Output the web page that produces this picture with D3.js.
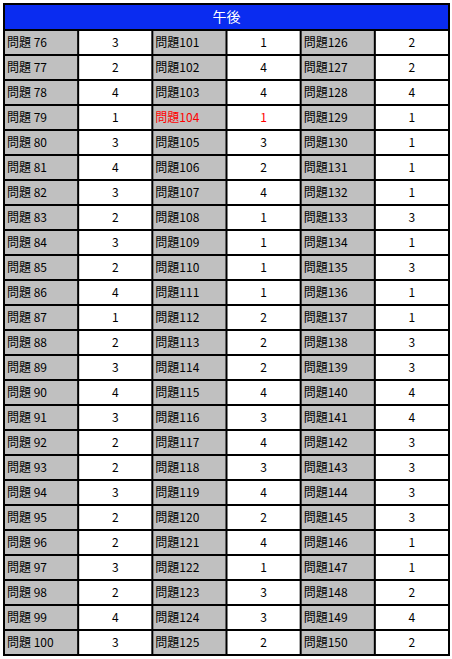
<!DOCTYPE html>
<html><head><meta charset="utf-8">
<script src="https://cdn.jsdelivr.net/npm/d3@7"></script>
<style>body{margin:0;background:#fff}</style>
</head><body>
<svg id="chart" width="452" height="659"></svg>
<script>
var title = "午後";
var labels1 = d3.range(76, 101).map(function(n){ return "問題 " + n; });
var labels2 = d3.range(101, 126).map(function(n){ return "問題" + n; });
var labels3 = d3.range(126, 151).map(function(n){ return "問題" + n; });
var values1 = [3,2,4,1,3,4,3,2,3,2,4,1,2,3,4,3,2,2,3,2,2,3,2,4,3];
var values2 = [1,4,4,1,3,2,4,1,1,1,1,2,2,2,4,3,4,3,4,2,4,1,3,3,2];
var values3 = [2,2,4,1,1,1,1,3,1,3,1,1,3,3,4,4,3,3,3,3,1,1,2,4,2];
var highlight = "問題104";

var svg = d3.select("#chart");
var x0 = 4, x1 = 449, y0 = 4, headH = 26, y1 = 655;
var font = "'Noto Sans CJK JP', sans-serif";

var cols = [labels1, values1, labels2, values2, labels3, values3];
var x = d3.scaleLinear().domain([0, 6]).range([x0, x1]);
var y = d3.scaleBand().domain(d3.range(25)).range([y0 + headH, y1]);

svg.append("rect").attr("x", x0).attr("y", y0).attr("width", x1 - x0).attr("height", headH).attr("fill", "#0a2cf0");
svg.append("text").attr("x", (x0 + x1) / 2).attr("y", y0 + headH / 2 + 5).attr("text-anchor", "middle")
  .attr("fill", "#fff").attr("font-family", font).attr("font-size", 14).text(title);

cols.forEach(function(col, c) {
  var isLabel = c % 2 === 0;
  var g = svg.append("g");
  g.selectAll("rect").data(col).enter().append("rect")
    .attr("x", x(c)).attr("y", function(d, i){ return y(i); })
    .attr("width", x(c + 1) - x(c)).attr("height", y.bandwidth())
    .attr("fill", isLabel ? "#c0c0c0" : "#fff");
  g.selectAll("text").data(col).enter().append("text")
    .attr("x", isLabel ? x(c) + 3 : (x(c) + x(c + 1)) / 2)
    .attr("y", function(d, i){ return y(i) + y.bandwidth() / 2 + 4.5; })
    .attr("text-anchor", isLabel ? "start" : "middle")
    .attr("font-family", font).attr("font-size", 12)
    .attr("fill", function(d, i){ return cols[c - (isLabel ? 0 : 1)][i] === highlight ? "#ff0000" : "#000"; })
    .text(function(d){ return d; });
});

// grid lines
d3.range(26).forEach(function(i){
  var yy = i < 25 ? y(i) : y1;
  svg.append("line").attr("x1", x0).attr("x2", x1).attr("y1", yy).attr("y2", yy).attr("stroke", "#000").attr("stroke-width", 2);
});
d3.range(7).forEach(function(c){
  svg.append("line").attr("x1", x(c)).attr("x2", x(c)).attr("y1", c === 0 || c === 6 ? y0 : y0 + headH).attr("y2", y1).attr("stroke", "#000").attr("stroke-width", 2);
});
svg.append("rect").attr("x", x0).attr("y", y0).attr("width", x1 - x0).attr("height", y1 - y0)
  .attr("fill", "none").attr("stroke", "#000").attr("stroke-width", 2);
</script>
</body></html>
